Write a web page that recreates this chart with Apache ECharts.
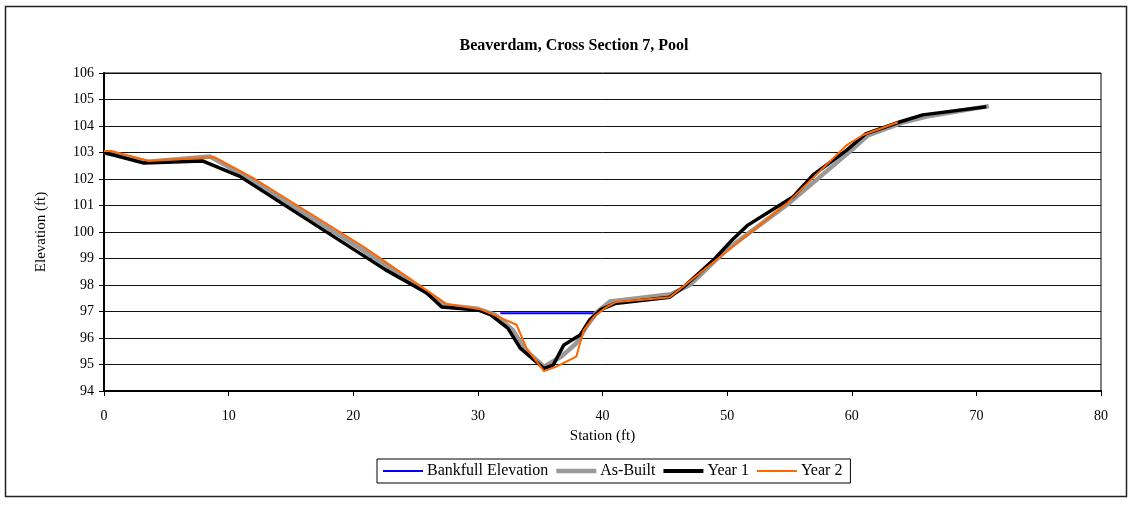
<!DOCTYPE html>
<html>
<head>
<meta charset="utf-8">
<script src="https://cdn.jsdelivr.net/npm/echarts@6/dist/echarts.min.js"></script>
<style>
html,body{margin:0;padding:0;background:#fff;}
#chart{width:1130px;height:506px;}
</style>
</head>
<body>
<div id="chart"></div>
<script>
const titleText = 'Beaverdam, Cross Section 7, Pool';
const seriesNames = ['Bankfull Elevation', 'As-Built', 'Year 1', 'Year 2'];

const bankfullStation = [31.8, 39.5];
const bankfullElev = [96.93, 96.93];

const asBuiltStation = [0, 3.5, 8.5, 11.0, 20.5, 25.9, 27.2, 30.0, 31.4, 32.8, 33.8, 35.3, 36.7, 37.9, 38.7, 39.5, 40.6, 45.5, 47.0, 50.0, 55.0, 57.0, 60.0, 61.3, 64.0, 66.0, 71.0];
const asBuiltElev = [103.0, 102.65, 102.85, 102.2, 99.4, 97.7, 97.25, 97.1, 96.87, 96.3, 95.55, 94.92, 95.3, 95.8, 96.43, 96.95, 97.38, 97.65, 98.0, 99.35, 101.1, 101.9, 103.1, 103.65, 104.12, 104.36, 104.75];

const year1Station = [0, 3.2, 7.9, 10.9, 22.6, 25.9, 27.1, 30.0, 31.0, 32.4, 33.4, 35.3, 36.05, 36.9, 38.2, 39.0, 39.9, 41.0, 45.4, 46.6, 48.9, 50.4, 51.6, 55.3, 56.9, 59.6, 61.1, 63.9, 65.7, 70.8];
const year1Elev = [103.0, 102.6, 102.68, 102.1, 98.57, 97.7, 97.17, 97.06, 96.88, 96.37, 95.62, 94.85, 94.98, 95.74, 96.11, 96.7, 97.08, 97.3, 97.54, 97.96, 98.94, 99.7, 100.24, 101.33, 102.15, 103.09, 103.7, 104.16, 104.42, 104.73];

const year2Station = [0, 0.6, 3.6, 8.9, 12.1, 20.8, 27.5, 30.2, 31.0, 33.1, 33.9, 35.3, 36.3, 37.9, 38.5, 39.3, 40.3, 41.1, 45.4, 54.8, 59.6, 60.9, 63.7];
const year2Elev = [103.06, 103.06, 102.68, 102.82, 102.0, 99.45, 97.28, 97.08, 96.93, 96.5, 95.62, 94.75, 94.92, 95.3, 96.3, 96.8, 97.16, 97.36, 97.54, 101.08, 103.28, 103.66, 104.14];

const xMin = 0, xMax = 80, xInterval = 10;
const yMin = 94, yMax = 106, yInterval = 1;

function zip(a, b) { return a.map((v, i) => [v, b[i]]); }
function lineIcon(h) { return 'path://M0,0L40,0L40,' + h + 'L0,' + h + 'Z'; }

const font = '"Liberation Serif", "Times New Roman", serif';
const chart = echarts.init(document.getElementById('chart'), null, {renderer: 'canvas'});
chart.setOption({
  animation: false,
  backgroundColor: '#fff',
  textStyle: {fontFamily: font, color: '#000'},
  title: {
    text: titleText, left: 569, top: 33, textAlign: 'center',
    textStyle: {fontFamily: font, fontSize: 16, fontWeight: 'bold', color: '#000'}
  },
  graphic: [{
    type: 'rect', shape: {x: 5.5, y: 6.5, width: 1121, height: 490},
    style: {fill: 'none', stroke: '#222', lineWidth: 1.5}, silent: true, z: -1
  }],
  grid: {left: 104, top: 73, width: 997, height: 318, show: true, borderColor: '#000', borderWidth: 1, containLabel: false},
  legend: {
    left: 377, top: 459, orient: 'horizontal',
    itemWidth: 40, itemHeight: 12, itemGap: 8,
    borderColor: '#000', borderWidth: 1, padding: [4, 8, 4, 6],
    symbolKeepAspect: true,
    textStyle: {fontFamily: font, fontSize: 16, color: '#000', padding: [0, 0, 0, -1]},
    data: [
      {name: seriesNames[0], icon: lineIcon(2)},
      {name: seriesNames[1], icon: lineIcon(4.5)},
      {name: seriesNames[2], icon: lineIcon(4)},
      {name: seriesNames[3], icon: lineIcon(2)}
    ]
  },
  xAxis: {
    type: 'value', min: xMin, max: xMax, interval: xInterval,
    name: 'Station (ft)', nameLocation: 'middle', nameGap: 38,
    nameTextStyle: {fontFamily: font, fontSize: 15, color: '#000'},
    axisLine: {show: true, onZero: false, lineStyle: {color: '#000', width: 2}},
    axisTick: {show: true, inside: false, length: 5, lineStyle: {color: '#000'}},
    axisLabel: {fontFamily: font, fontSize: 14, color: '#000', margin: 18},
    splitLine: {show: false}
  },
  yAxis: {
    type: 'value', min: yMin, max: yMax, interval: yInterval,
    name: 'Elevation (ft)', nameLocation: 'middle', nameGap: 55, nameRotate: 90,
    nameTextStyle: {fontFamily: font, fontSize: 15, color: '#000'},
    axisLine: {show: true, onZero: false, lineStyle: {color: '#000', width: 2}},
    axisTick: {show: true, inside: false, length: 5, lineStyle: {color: '#000'}},
    axisLabel: {fontFamily: font, fontSize: 14, color: '#000', margin: 10},
    splitLine: {show: true, lineStyle: {color: '#111', width: 1}}
  },
  series: [
    {name: seriesNames[0], type: 'line', data: zip(bankfullStation, bankfullElev), symbol: 'none', showSymbol: false,
     lineStyle: {color: '#0000ff', width: 2}, itemStyle: {color: '#0000ff'}, z: 2},
    {name: seriesNames[1], type: 'line', data: zip(asBuiltStation, asBuiltElev), symbol: 'none', showSymbol: false,
     lineStyle: {color: '#999999', width: 4.5}, itemStyle: {color: '#999999'}, z: 3},
    {name: seriesNames[2], type: 'line', data: zip(year1Station, year1Elev), symbol: 'none', showSymbol: false,
     lineStyle: {color: '#000000', width: 3.5}, itemStyle: {color: '#000000'}, z: 4},
    {name: seriesNames[3], type: 'line', data: zip(year2Station, year2Elev), symbol: 'none', showSymbol: false,
     lineStyle: {color: '#ff6600', width: 2}, itemStyle: {color: '#ff6600'}, z: 5}
  ]
});
</script>
</body>
</html>
